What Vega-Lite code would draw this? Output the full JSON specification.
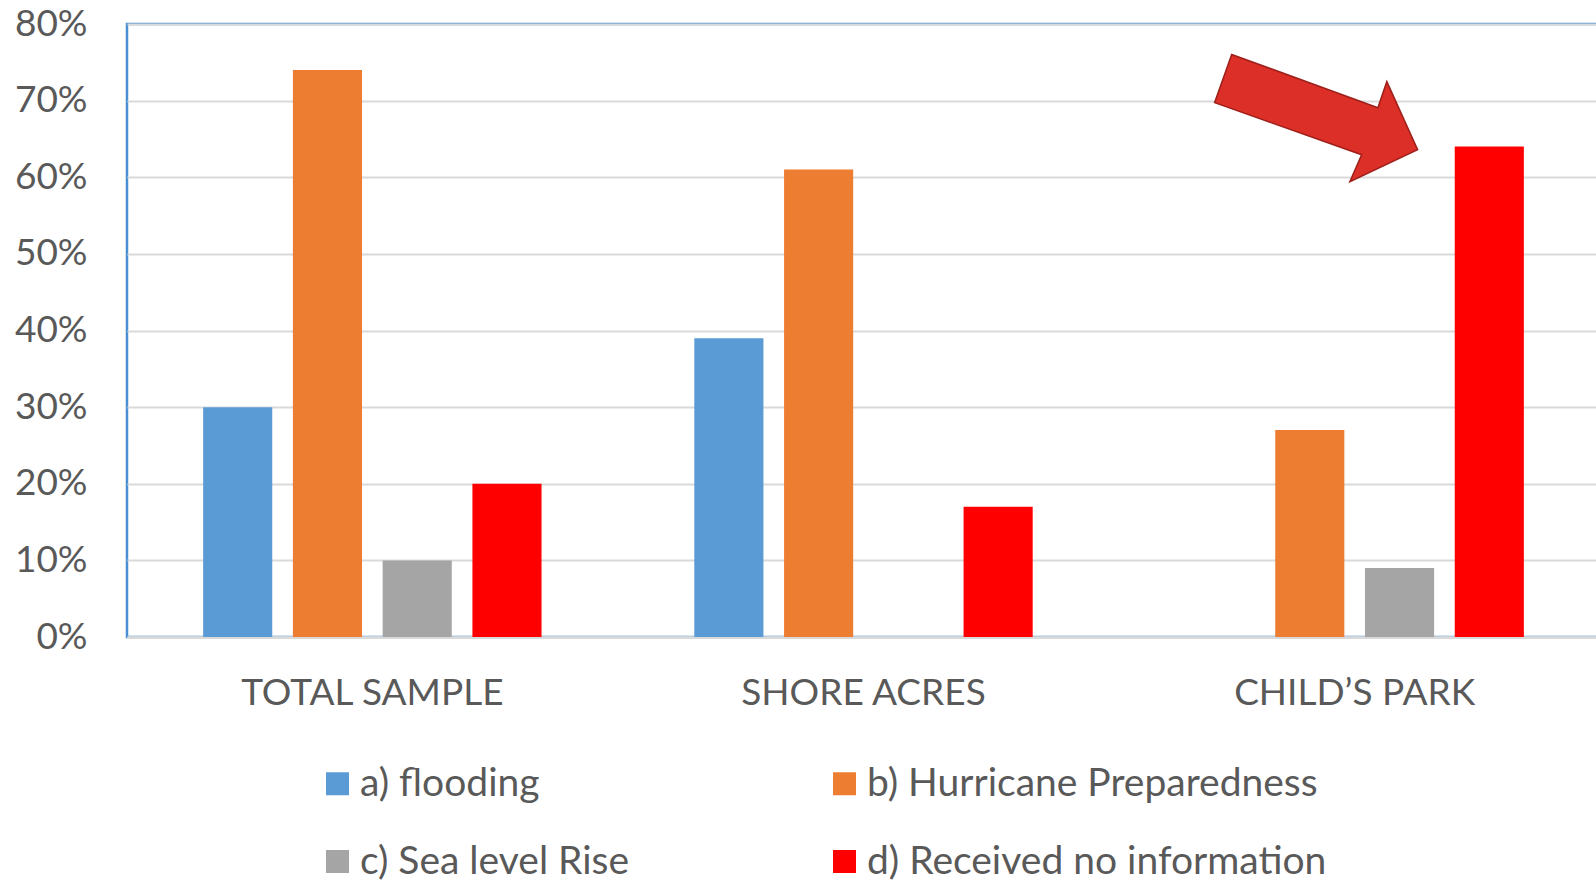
{
  "$schema": "https://vega.github.io/schema/vega-lite/v6.json",
  "width": 1473,
  "height": 613,
  "autosize": {"type": "none"},
  "padding": {"left": 127, "top": 24, "right": 0, "bottom": 244},
  "background": "white",
  "config": {
    "font": "Lato",
    "view": {"stroke": "#4a8fd4", "strokeWidth": 2.5},
    "axis": {"labelColor": "#595959", "labelFontSize": 37, "labelFont": "Lato", "title": null, "ticks": false, "labelLimit": 800}
  },
  "data": {
    "values": [
      {"group": "TOTAL SAMPLE", "series": "a) flooding", "value": 0.30},
      {"group": "TOTAL SAMPLE", "series": "b) Hurricane Preparedness", "value": 0.74},
      {"group": "TOTAL SAMPLE", "series": "c) Sea level Rise", "value": 0.10},
      {"group": "TOTAL SAMPLE", "series": "d) Received no information", "value": 0.20},
      {"group": "SHORE ACRES", "series": "a) flooding", "value": 0.39},
      {"group": "SHORE ACRES", "series": "b) Hurricane Preparedness", "value": 0.61},
      {"group": "SHORE ACRES", "series": "c) Sea level Rise", "value": 0.0},
      {"group": "SHORE ACRES", "series": "d) Received no information", "value": 0.17},
      {"group": "CHILD’S PARK", "series": "a) flooding", "value": 0.0},
      {"group": "CHILD’S PARK", "series": "b) Hurricane Preparedness", "value": 0.27},
      {"group": "CHILD’S PARK", "series": "c) Sea level Rise", "value": 0.09},
      {"group": "CHILD’S PARK", "series": "d) Received no information", "value": 0.64}
    ]
  },
  "encoding": {
    "x": {
      "field": "group", "type": "nominal", "sort": null,
      "scale": {"paddingInner": 0.269, "paddingOuter": 0.134},
      "axis": {"labelAngle": 0, "domain": true, "domainColor": "#d9d9d9", "domainWidth": 2.5, "grid": false, "labelPadding": 38}
    },
    "xOffset": {
      "field": "series", "type": "nominal",
      "scale": {"paddingInner": 0.23, "paddingOuter": 0.115}
    },
    "y": {
      "field": "value", "type": "quantitative",
      "scale": {"domain": [0, 0.8], "nice": false},
      "axis": {"values": [0, 0.1, 0.2, 0.3, 0.4, 0.5, 0.6, 0.7, 0.8], "format": ".0%", "domain": false, "grid": true, "gridColor": "#d9d9d9", "gridWidth": 2, "labelPadding": 40}
    }
  },
  "layer": [
    {
      "mark": {"type": "bar"},
      "encoding": {
        "color": {
          "field": "series", "type": "nominal",
          "scale": {
            "domain": ["a) flooding", "c) Sea level Rise", "b) Hurricane Preparedness", "d) Received no information"],
            "range": ["#5b9bd5", "#a5a5a5", "#ed7d31", "#ff0000"]
          },
          "legend": {
            "orient": "none", "legendX": 191, "legendY": 740, "columns": 2,
            "title": null, "symbolType": "square", "symbolSize": 529, "symbolStrokeWidth": 0,
            "labelFontSize": 39, "labelColor": "#595959", "labelFont": "Lato", "labelOffset": 3,
            "rowPadding": 38, "columnPadding": 195, "padding": 0, "labelLimit": 800
          }
        }
      }
    },
    {
      "transform": [{"filter": "datum.series === 'd) Received no information' && datum.value > 0.5"}],
      "mark": {
        "type": "point",
        "shape": "M -0.920 -0.329 L -0.398 -0.139 L -0.366 -0.232 L -0.256 0.011 L -0.498 0.125 L -0.456 0.029 L -0.981 -0.157 Z",
        "size": 313600, "filled": true, "fill": "#dc2f27", "stroke": "#9e1f1a", "strokeWidth": 1.5, "opacity": 1
      },
      "encoding": {}
    }
  ]
}
